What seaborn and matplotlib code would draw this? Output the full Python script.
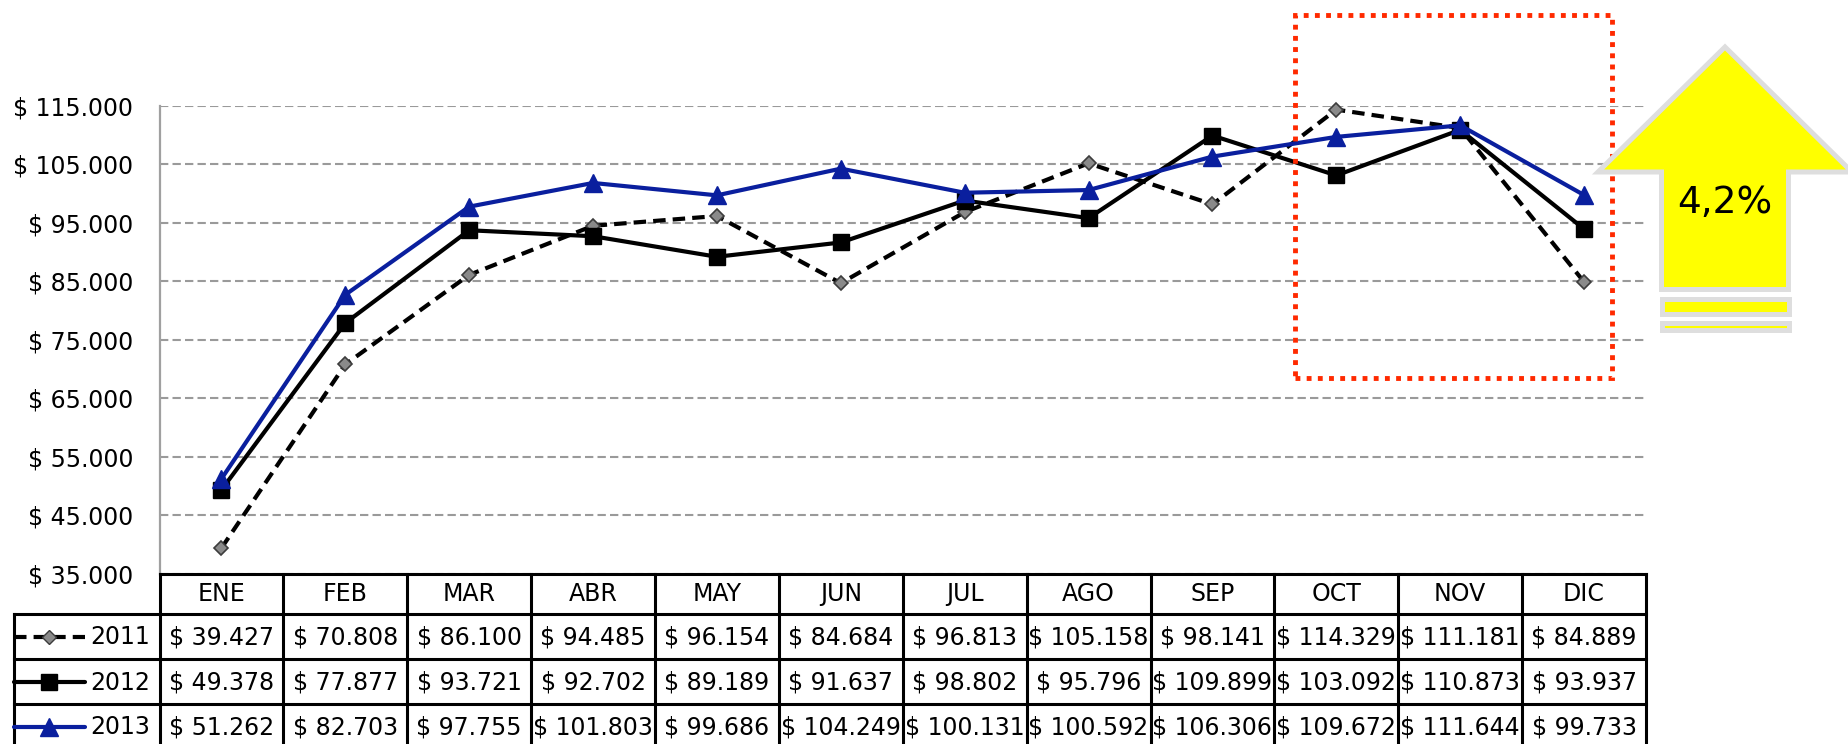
import numpy as np
import pandas as pd
import matplotlib.pyplot as plt
from matplotlib.patches import Polygon, Rectangle
import seaborn as sns

meses = ["ENE", "FEB", "MAR", "ABR", "MAY", "JUN", "JUL", "AGO", "SEP", "OCT", "NOV", "DIC"]
anios = ["2011", "2012", "2013"]
ventas_2011 = [39427, 70808, 86100, 94485, 96154, 84684, 96813, 105158, 98141, 114329, 111181, 84889]
ventas_2012 = [49378, 77877, 93721, 92702, 89189, 91637, 98802, 95796, 109899, 103092, 110873, 93937]
ventas_2013 = [51262, 82703, 97755, 101803, 99686, 104249, 100131, 100592, 106306, 109672, 111644, 99733]
y_ticks = [35000, 45000, 55000, 65000, 75000, 85000, 95000, 105000, 115000]
variacion = "4,2%"


def pesos(v):
    return "$ " + f"{v:,}".replace(",", ".")


df = pd.DataFrame({
    "pos": list(range(len(meses))) * 3,
    "mes": meses * 3,
    "anio": [a for a in anios for _ in meses],
    "ventas": ventas_2011 + ventas_2012 + ventas_2013,
})

sns.set_style("white")
plt.rcParams["font.family"] = ["DejaVu Sans"]
plt.rcParams["text.color"] = "black"
plt.rcParams["ytick.color"] = "black"
plt.rcParams["ytick.labelcolor"] = "black"

W, H = 1849, 744
fig = plt.figure(figsize=(W / 100, H / 100), dpi=100)


def fx(px):
    return px / W


def fy(py):
    return 1 - py / H


left_px, right_px, top_px, bottom_px = 159.5, 1646, 105.7, 574
ax = fig.add_axes([fx(left_px), fy(bottom_px), fx(right_px - left_px), (bottom_px - top_px) / H])

# estilos de cada serie
estilos = {
    "2011": dict(color="black", marker="D", markersize=7, markerfacecolor="#8a8a8a",
                 markeredgecolor="#3c3c3c", markeredgewidth=1.2, linewidth=3),
    "2012": dict(color="black", marker="s", markersize=11, markerfacecolor="black",
                 markeredgecolor="black", markeredgewidth=1, linewidth=3),
    "2013": dict(color="#0a1f9e", marker="^", markersize=13, markerfacecolor="#0a1f9e",
                 markeredgecolor="#0a1f9e", markeredgewidth=1, linewidth=3),
}
guiones = (3, 1.7)

for anio in anios:
    sub = df[df["anio"] == anio]
    sns.lineplot(data=sub, x="pos", y="ventas", ax=ax, errorbar=None, legend=False,
                 clip_on=False, **estilos[anio])
    if anio == "2011":
        ax.lines[-1].set_dashes(guiones)

ax.set_xlim(-0.5, 11.5)
ax.set_ylim(35000, 115000)
ax.set_xticks([])
ax.set_yticks(y_ticks)
ax.set_yticklabels([pesos(v) for v in y_ticks], fontsize=17, color="black")
ax.tick_params(axis="y", length=0, pad=19)
ax.set_xlabel("")
ax.set_ylabel("")
ax.yaxis.grid(True, color="#9a9a9a", linestyle=(0, (4, 2)), linewidth=1.5)
ax.xaxis.grid(False)
ax.set_axisbelow(True)
for s in ["top", "right", "bottom"]:
    ax.spines[s].set_visible(False)
ax.spines["left"].set_color("#a0a0a0")
ax.spines["left"].set_linewidth(1.6)

# tabla de datos
cw = (right_px - left_px) / 12
tab = fig.add_axes([0, 0, fx(right_px), (H - bottom_px) / H])
tab.set_xlim(-0.5 - left_px / cw, 11.5)
tab.set_ylim(H - bottom_px, 0)
tab.axis("off")


def tx(px):
    return -0.5 + (px - left_px) / cw


filas = [0, 40, 85, 130, 175]
lw_t = 2.2
kw = dict(color="black", linewidth=lw_t, clip_on=False, solid_capstyle="projecting")
tab.plot([-0.5, 11.5], [0, 0], **kw)
for i in range(13):
    tab.plot([-0.5 + i, -0.5 + i], [0, 175], **kw)
for yv in filas[1:4]:
    tab.plot([tx(14), 11.5], [yv, yv], **kw)
tab.plot([tx(14), tx(14)], [40, 175], **kw)

for i, m in enumerate(meses):
    tab.text(i, 20, m, ha="center", va="center", fontsize=17, color="black")

series = [ventas_2011, ventas_2012, ventas_2013]
for r, (anio, vals) in enumerate(zip(anios, series)):
    ym = (filas[r + 1] + filas[r + 2]) / 2
    for i, v in enumerate(vals):
        tab.text(i, ym + 1, pesos(v), ha="center", va="center", fontsize=17, color="black")
    st = estilos[anio]
    ln, = tab.plot([tx(14), tx(85)], [ym, ym], color=st["color"], linewidth=st["linewidth"],
                   clip_on=False)
    if anio == "2011":
        ln.set_dashes(guiones)
    tab.plot([tx(49)], [ym], linestyle="none", marker=st["marker"], markersize=st["markersize"],
             markerfacecolor=st["markerfacecolor"], markeredgecolor=st["markeredgecolor"],
             clip_on=False)
    tab.text(tx(90), ym + 1, anio, ha="left", va="center", fontsize=17, color="black")

# recuadro rojo punteado
x0, y0, x1, y1 = 1295, 15, 1612, 378
fig.add_artist(Rectangle((fx(x0), fy(y1)), fx(x1 - x0), (y1 - y0) / H, transform=fig.transFigure,
                         fill=False, edgecolor="#ff2a00", linewidth=3.5,
                         linestyle=(0, (1, 1.3))))

# flecha amarilla
flecha = [(1725, 47), (1852, 172), (1788.5, 172), (1788.5, 289.5), (1661.5, 289.5),
          (1661.5, 172), (1598, 172)]
fig.add_artist(Polygon([(fx(a), fy(b)) for a, b in flecha], closed=True,
                       transform=fig.transFigure, facecolor="#ffff00",
                       edgecolor="#dedede", linewidth=3.6, joinstyle="miter"))
for b0, b1 in [(298.7, 313.8), (322.5, 329.8)]:
    fig.add_artist(Rectangle((fx(1661.5), fy(b1)), fx(1788.5 - 1661.5), (b1 - b0) / H,
                             transform=fig.transFigure, facecolor="#ffff00",
                             edgecolor="#dedede", linewidth=3.6))
fig.text(fx(1725), fy(203), variacion, ha="center", va="center", fontsize=27, color="black")

fig.savefig("out.png", dpi=100)
